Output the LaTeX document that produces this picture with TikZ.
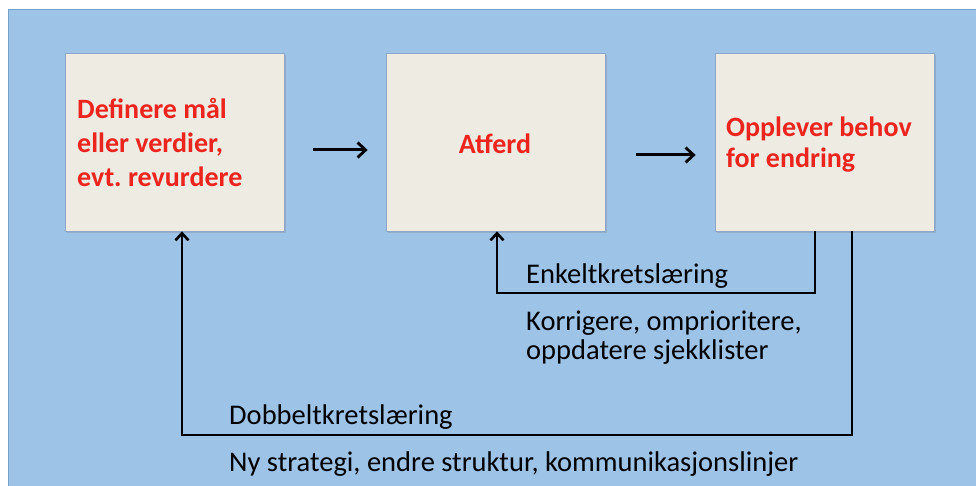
\documentclass[tikz,border=0pt]{standalone}
\usepackage{fontspec}
\setmainfont{Carlito}
\frenchspacing
\usetikzlibrary{arrows.meta,shadows}
\definecolor{panel}{RGB}{157,195,230}
\definecolor{panelline}{RGB}{120,160,205}
\definecolor{boxfill}{RGB}{238,236,226}
\definecolor{boxline}{RGB}{140,165,200}
\definecolor{stepred}{RGB}{236,36,30}
\tikzset{
  stepbox/.style={draw=boxline, line width=0.8pt, fill=boxfill,
    minimum width=219pt, minimum height=178pt, inner sep=0pt,
    drop shadow={opacity=0.3, shadow xshift=1.5pt, shadow yshift=-2pt}},
  steptext/.style={text=stepred, font=\fontsize{28}{34}\selectfont\bfseries},
  flow/.style={line width=3pt, -{Straight Barb[length=8pt,width=15pt,line width=2.8pt]}},
  loop/.style={line width=2.8pt, -{Straight Barb[length=7pt,width=13pt,line width=2.6pt]}},
  note/.style={anchor=base west, inner sep=0pt, font=\fontsize{28.5}{29}\selectfont}
}
\begin{document}
\begin{tikzpicture}[x=1pt,y=-1pt]
\useasboundingbox (0,0) rectangle (976,486);
\fill[white] (0,0) rectangle (976,486);
% blue panel behind the whole model
\filldraw[fill=panel, draw=panelline, line width=1pt] (8,10) rectangle (990,500);

% the three stages
\node[stepbox] (b1) at (174.5,142) {};
\node[stepbox] (b2) at (495.5,142) {};
\node[stepbox] (b3) at (824.5,142) {};

% multi-line labels are placed by the baseline of their last line
\node[steptext, anchor=base west, align=left, inner sep=0pt] (t1) at (77,187)
  {Definere mål\\eller verdier,\\evt. revurdere};
\node[steptext, anchor=base, inner sep=0pt] (t2) at (495,154) {Atferd};
\node[steptext, anchor=base west, align=left, inner sep=0pt,
  font=\fontsize{28}{31}\selectfont\bfseries] (t3) at (726,168)
  {Opplever behov\\for endring};

% forward arrows
\draw[flow, shorten <=29pt, shorten >=18pt] ([yshift=-8pt]b1.east) -- ([yshift=-8pt]b2.west);
\draw[flow, shorten <=31pt, shorten >=19pt] ([yshift=-13pt]b2.east) -- ([yshift=-13pt]b3.west);

% single-loop learning
\coordinate (k1) at (815,293);
\coordinate (k2) at (497,293);
\draw[loop] (b3.south -| k1) -- (k1) -- (k2) -- (b2.south -| k2);

% double-loop learning
\coordinate (d1) at (852,435);
\coordinate (d2) at (182,435);
\draw[loop] (b3.south -| d1) -- (d1) -- (d2) -- (b1.south -| d2);

% loop labels
\node[note] (e1) at (526,283) {Enkeltkretslæring};
\node[note] (e2) at (526,330) {Korrigere, omprioritere,};
\node[note] (e3) at (526,359) {oppdatere sjekklister};
\node[note] (f1) at (229,424) {Dobbeltkretslæring};
\node[note] (f2) at (229,471) {Ny strategi, endre struktur, kommunikasjonslinjer};
\end{tikzpicture}
\end{document}
